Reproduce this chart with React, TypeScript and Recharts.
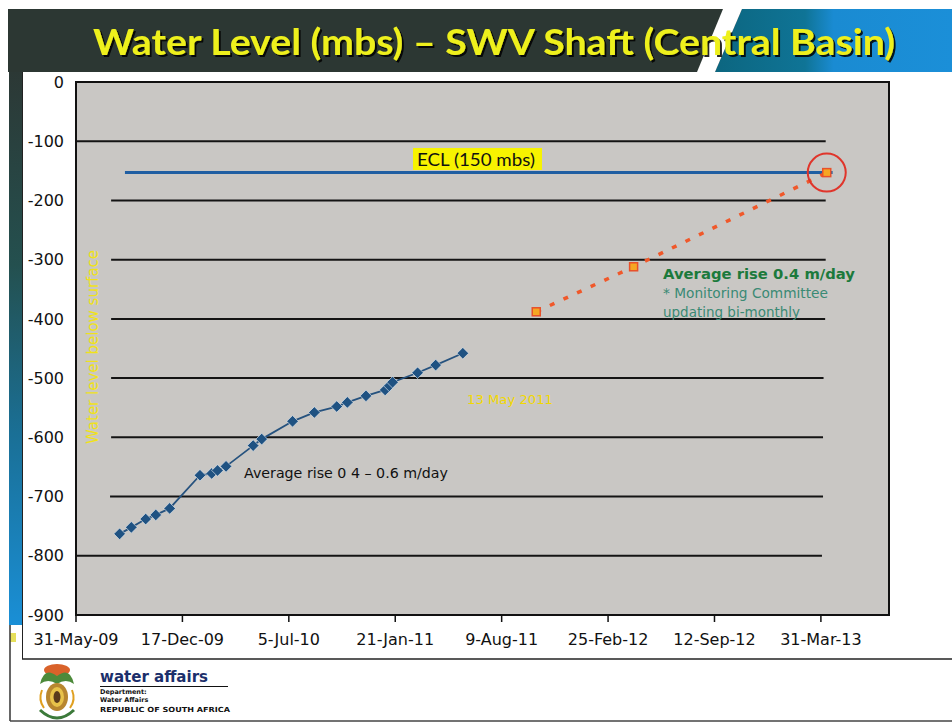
import React from 'react';
import {
  ComposedChart, Line, XAxis, YAxis, CartesianGrid, ReferenceLine, ReferenceArea, ReferenceDot,
} from 'recharts';

// x values are days after 31-May-09
const tickDays = [0, 200, 400, 600, 800, 1000, 1200, 1400];
const tickLabels = ['31-May-09', '17-Dec-09', '5-Jul-10', '21-Jan-11', '9-Aug-11', '25-Feb-12', '12-Sep-12', '31-Mar-13'];
const levelTicks = [0, -100, -200, -300, -400, -500, -600, -700, -800, -900];

const measuredDays = [82, 104, 131, 150, 176, 233, 255, 266, 282, 333, 349, 407, 448, 490, 510, 545, 581, 589, 595, 642, 676, 727];
const measuredLevels = [-763, -752, -738, -731, -720, -664, -661, -656, -649, -614, -603, -573, -558, -548, -541, -530, -520, -513, -507, -491, -478, -458];

const projectedDays = [865, 1048, 1411];
const projectedLevels = [-388, -312, -153];

const eclDays = [92, 1422];
const eclLevel = -153;

const gridLevels = [-100, -200, -300, -400, -500, -600, -700, -800];
const gridStartDays = [0, 66, 66, 66, 66, 66, 64, 0];
const gridEndDays = [1409, 1409, 1409, 1408, 1405, 1404, 1404, 1402];

const measured = measuredDays.map((d, i) => ({ day: d, lvl: measuredLevels[i] }));
const projected = projectedDays.map((d, i) => ({ day: d, lvl: projectedLevels[i] }));
const ecl = eclDays.map((d) => ({ day: d, lvl: eclLevel }));

const Diamond = (props: any) => {
  const { cx, cy } = props;
  if (cx == null || cy == null) return null;
  const r = 5.8;
  return (
    <path
      d={`M${cx},${cy - r} L${cx + r},${cy} L${cx},${cy + r} L${cx - r},${cy} Z`}
      fill="#1f5282"
      stroke="#e4ebf0"
      strokeOpacity={0.7}
      strokeWidth={0.9}
    />
  );
};

const Square = (props: any) => {
  const { cx, cy } = props;
  if (cx == null || cy == null) return null;
  return <rect x={cx - 4} y={cy - 4} width={8} height={8} fill="#f5a623" stroke="#e8502a" strokeWidth={1.5} />;
};

const axisFont = { fontFamily: 'DejaVu Sans', fontSize: 16, fill: '#111' };

export default function App() {
  return (
    <div style={{ position: 'relative', width: 952, height: 724, background: '#fff', overflow: 'hidden' }}>
      <style>{'body{margin:0}'}</style>
      {/* slide decorations behind the chart */}
      <svg width={952} height={724} style={{ position: 'absolute', left: 0, top: 0 }}>
        <defs>
          <linearGradient id="bandBlue" x1="0" y1="0" x2="1" y2="0">
            <stop offset="0" stopColor="#0c6680" />
            <stop offset="0.38" stopColor="#0f7496" />
            <stop offset="0.5" stopColor="#1a8bd2" />
            <stop offset="1" stopColor="#1b8fd8" />
          </linearGradient>
          <linearGradient id="strip" x1="0" y1="0" x2="0" y2="1">
            <stop offset="0" stopColor="#2c3835" />
            <stop offset="0.35" stopColor="#24504f" />
            <stop offset="0.65" stopColor="#1a6f95" />
            <stop offset="1" stopColor="#1a8fd6" />
          </linearGradient>
        </defs>
        <rect x={8} y={9} width={944} height={63} fill="#2c3733" />
        <polygon points="742,9 952,9 952,72 715,72" fill="url(#bandBlue)" />
        <polygon points="723,9 742,9 715,72 697,72" fill="#ffffff" />
        <rect x={9} y={72} width={13} height={553} fill="url(#strip)" />
        <line x1={22.5} y1={72} x2={22.5} y2={659} stroke="#222" strokeWidth={1} />
        <rect x={10} y={633} width={6} height={9} fill="#e6df5a" />
        <line x1={22} y1={659} x2={952} y2={659} stroke="#222" strokeWidth={1.5} />
        <line x1={10} y1={625} x2={10} y2={721} stroke="#333" strokeWidth={1.5} />
        <line x1={10} y1={721} x2={952} y2={721} stroke="#444" strokeWidth={1.5} />
        {/* simplified coat of arms */}
        <g>
          <ellipse cx={57} cy={670} rx={13} ry={6} fill="#d9622a" />
          <path d="M40,684 Q44,666 57,676 Q70,666 74,684 Q66,678 57,684 Q48,678 40,684 Z" fill="#4c8a3a" />
          <ellipse cx={57} cy={697} rx={11} ry={14} fill="#b8862f" />
          <ellipse cx={57} cy={697} rx={7} ry={10} fill="#e8c24a" />
          <ellipse cx={57} cy={697} rx={3.5} ry={6} fill="#5a3a1c" />
          <path d="M40,710 Q57,726 74,710" fill="none" stroke="#3c7a3a" strokeWidth={3} />
          <path d="M42,690 Q38,700 44,708" fill="none" stroke="#e0a020" strokeWidth={2} />
          <path d="M72,690 Q76,700 70,708" fill="none" stroke="#e0a020" strokeWidth={2} />
        </g>
        <text x={100} y={682} fontFamily="DejaVu Sans Condensed, DejaVu Sans" fontWeight="bold" fontSize={16} fill="#1c2f6b" textLength={108} lengthAdjust="spacingAndGlyphs">water affairs</text>
        <line x1={100} y1={686.5} x2={228} y2={686.5} stroke="#111" strokeWidth={1.2} />
        <text x={100} y={694} fontFamily="DejaVu Sans" fontWeight="bold" fontSize={6.5} fill="#111">Department:</text>
        <text x={100} y={702} fontFamily="DejaVu Sans" fontWeight="bold" fontSize={6.5} fill="#111">Water Affairs</text>
        <text x={100} y={712} fontFamily="DejaVu Sans" fontWeight="bold" fontSize={7} fill="#111" textLength={130} lengthAdjust="spacingAndGlyphs">REPUBLIC OF SOUTH AFRICA</text>
      </svg>

      <div style={{ position: 'absolute', left: 0, top: 0 }}>
        <ComposedChart width={952} height={724} margin={{ top: 82, right: 63, bottom: 79, left: 16 }}>
          <CartesianGrid horizontal={false} vertical={false} fill="#c9c7c4" fillOpacity={1} />
          <XAxis
            dataKey="day"
            type="number"
            domain={[0, 1528]}
            ticks={tickDays}
            tickFormatter={(v: number) => tickLabels[tickDays.indexOf(v)] ?? ''}
            interval={0}
            height={30}
            tick={axisFont}
            tickSize={7}
            tickMargin={12}
            axisLine={{ stroke: '#111', strokeWidth: 2 }}
            tickLine={{ stroke: '#111', strokeWidth: 1.5 }}
            allowDataOverflow
          />
          <YAxis
            dataKey="lvl"
            type="number"
            domain={[-900, 0]}
            ticks={levelTicks}
            interval={0}
            width={60}
            tick={axisFont}
            tickSize={0}
            tickMargin={12}
            axisLine={{ stroke: '#111', strokeWidth: 2 }}
            tickLine={false}
            allowDataOverflow
          />
          <ReferenceArea x1={0} x2={1528} y1={-900} y2={0} fill="none" stroke="#111" strokeWidth={2} />
          {gridLevels.map((lv, i) => (
            <ReferenceLine
              key={lv}
              segment={[{ x: gridStartDays[i], y: lv }, { x: gridEndDays[i], y: lv }]}
              stroke="#141414"
              strokeWidth={2}
            />
          ))}
          <Line data={ecl} dataKey="lvl" stroke="#1f5ea2" strokeWidth={3} dot={false} isAnimationActive={false} />
          <Line data={measured} dataKey="lvl" stroke="#26527e" strokeWidth={1.8} dot={<Diamond />} isAnimationActive={false} />
          <ReferenceDot x={1411} y={-153} r={19} fill="none" stroke="#e0352b" strokeWidth={2} />
          <Line
            data={projected}
            dataKey="lvl"
            stroke="#f0582a"
            strokeWidth={3.5}
            strokeDasharray="5 10"
            dot={<Square />}
            isAnimationActive={false}
          />
        </ComposedChart>
      </div>

      {/* slide texts above the chart */}
      <svg width={952} height={724} style={{ position: 'absolute', left: 0, top: 0, pointerEvents: 'none' }}>
        <defs>
          <filter id="titleShadow" x="-5%" y="-30%" width="110%" height="160%">
            <feDropShadow dx={2} dy={2} stdDeviation={0.6} floodColor="#000" floodOpacity={0.85} />
          </filter>
        </defs>
        <text x={93} y={55} fontFamily="Lato" fontWeight="bold" fontSize={37} fill="#eef01e" textLength={802} lengthAdjust="spacingAndGlyphs" filter="url(#titleShadow)">Water Level (mbs) – SWV Shaft (Central Basin)</text>

        <text transform="translate(98,347) rotate(-90)" textAnchor="middle" fontFamily="DejaVu Sans" fontSize={15} fill="#f0e21a">Water level below surface</text>

        <rect x={413} y={148} width={129} height={22} fill="#f7f300" />
        <text x={417} y={166} fontFamily="Lato" fontSize={17.5} fill="#111" textLength={118} lengthAdjust="spacingAndGlyphs">ECL (150 mbs)</text>

        <text x={663} y={279} fontFamily="DejaVu Sans" fontWeight="bold" fontSize={14} fill="#1c7a3c" textLength={192} lengthAdjust="spacingAndGlyphs">Average rise 0.4 m/day</text>
        <text x={663} y={298} fontFamily="DejaVu Sans" fontSize={13.5} fill="#3a8a74" textLength={165} lengthAdjust="spacingAndGlyphs">* Monitoring Committee</text>
        <text x={663} y={317} fontFamily="DejaVu Sans" fontSize={13.5} fill="#3a8a74" textLength={137} lengthAdjust="spacingAndGlyphs">updating bi-monthly</text>

        <text x={244} y={478} fontFamily="DejaVu Sans" fontSize={14} fill="#111" textLength={204} lengthAdjust="spacingAndGlyphs">Average rise 0 4 – 0.6 m/day</text>
        <text x={467} y={404} fontFamily="DejaVu Sans" fontSize={13} fill="#f2d800" textLength={86} lengthAdjust="spacingAndGlyphs">13 May 2011</text>
      </svg>
    </div>
  );
}
